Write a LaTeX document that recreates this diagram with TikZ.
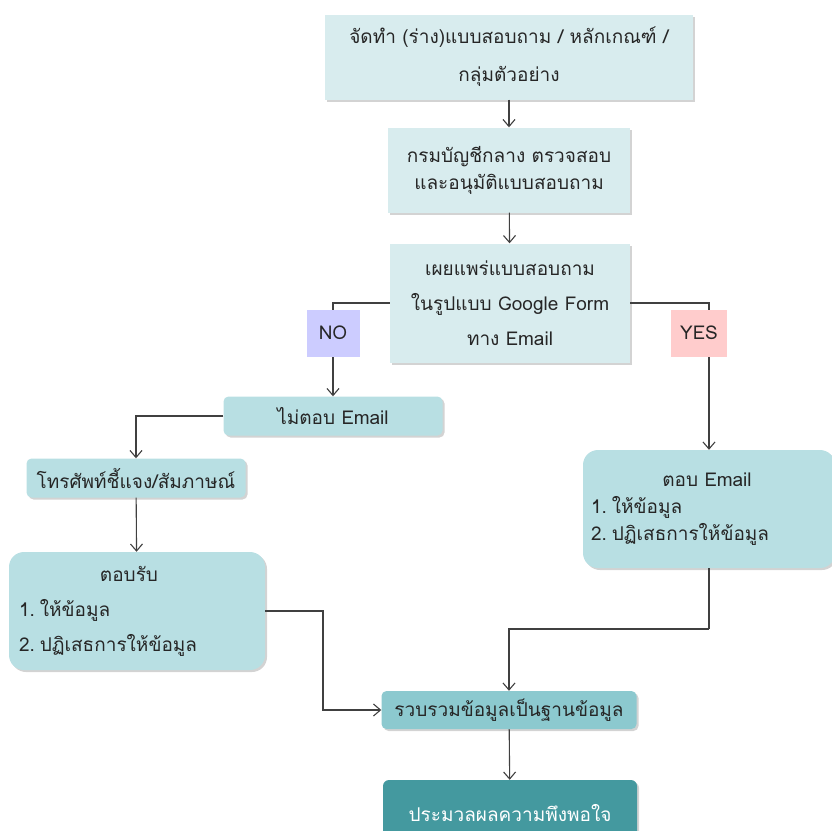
\documentclass[tikz,border=0pt]{standalone}
\usepackage{fontspec}
\newfontfamily\thaifont[Script=Thai]{Loma}
\usetikzlibrary{arrows.meta,shadows}
\definecolor{palecyan}{HTML}{D8ECEE}
\definecolor{midcyan}{HTML}{B8DFE3}
\definecolor{deepcyan}{HTML}{8CC9CF}
\definecolor{darkcyan}{HTML}{44999F}
\definecolor{nocol}{HTML}{CCCCFF}
\definecolor{yescol}{HTML}{FFCCCC}
\definecolor{inkgray}{HTML}{262626}
\definecolor{linegray}{HTML}{404040}

\begin{document}
\begin{tikzpicture}[x=1pt, y=-1pt, font=\thaifont\fontsize{19}{27}\selectfont, text=inkgray]

            % Styly uzlu a sipek
            \tikzstyle{palebox} = [rectangle, align=center, fill=palecyan, drop shadow={shadow xshift=2pt, shadow yshift=-2pt, opacity=0.35}]
            \tikzstyle{stepbox} = [rectangle, rounded corners=5pt, align=center, fill=midcyan, minimum width=219, minimum height=39, drop shadow={shadow xshift=2pt, shadow yshift=-2pt, opacity=0.35}]
            \tikzstyle{listbox} = [rectangle, rounded corners=15pt, align=left, fill=midcyan, minimum height=118, drop shadow={shadow xshift=2pt, shadow yshift=-2pt, opacity=0.35}]
            \tikzstyle{tag} = [rectangle, minimum height=47]
            \tikzstyle{arrow} = [draw=linegray, line width=1.1pt, -{Straight Barb[length=7pt, width=12pt]}]
            \tikzstyle{line} = [draw=linegray, line width=1.1pt]

            \useasboundingbox (0,0) rectangle (832,830);

            % Uzly diagramu
            \node (draft) [palebox, minimum width=368, minimum height=85, font=\thaifont\fontsize{19}{38}\selectfont] at (509,57) {จัดทำ (ร่าง)แบบสอบถาม / หลักเกณฑ์ /\\กลุ่มตัวอย่าง};
            \node (approve) [palebox, minimum width=242, minimum height=85] at (509,170) {กรมบัญชีกลาง ตรวจสอบ\\และอนุมัติแบบสอบถาม};
            \node (publish) [palebox, minimum width=240, minimum height=119, font=\thaifont\fontsize{19}{35}\selectfont] at (510,303) {เผยแพร่แบบสอบถาม\\ในรูปแบบ Google Form\\ทาง Email};
            \node (noreply) [stepbox] at (333,416) {ไม่ตอบ Email};
            \node (phone) [stepbox] at (136,478) {โทรศัพท์ชี้แจง/สัมภาษณ์};
            \node (accept) [listbox, minimum width=256, text width=236, font=\thaifont\fontsize{19}{35}\selectfont] at (137,611) {\makebox[220pt][c]{ตอบรับ}\\1.\hspace{5pt}ให้ข้อมูล\\2.\hspace{5pt}ปฏิเสธการให้ข้อมูล};
            \node (emailreply) [listbox, minimum width=252, text width=236, font=\thaifont\fontsize{19}{27}\selectfont] at (709,509) {\makebox[232pt][c]{ตอบ Email}\\1.\hspace{5pt}ให้ข้อมูล\\2.\hspace{5pt}ปฏิเสธการให้ข้อมูล};
            \node (collect) [stepbox, fill=deepcyan, minimum width=255, minimum height=38] at (509,710) {รวบรวมข้อมูลเป็นฐานข้อมูล};
            \node (evaluate) [rectangle, rounded corners=6pt, fill=darkcyan, text=white, minimum width=254, minimum height=66, drop shadow={shadow xshift=2pt, shadow yshift=-2pt, opacity=0.35}] at (510,813) {ประมวลผลความพึงพอใจ};

            % Zlomy car
            \coordinate (bendL) at (323,611);
            \coordinate (bendR) at (709,629);

            % Sipky propojujici uzly
            \draw [arrow] (draft) -- (approve);
            \draw [arrow] (approve) -- (publish);
            \draw [arrow] (publish.west) -| (noreply.north);
            \draw [arrow] (publish.east) -| (emailreply.north);
            \draw [arrow] (noreply.west) -| (phone.north);
            \draw [arrow] (phone) -- (accept);
            \draw [arrow] (accept.east) -- (bendL) |- (collect.west);
            \draw [line] (emailreply.south) -- (bendR);
            \draw [arrow] (bendR) -| (collect.north);
            \draw [arrow] (collect) -- (evaluate);

            % Popisky vetvi
            \node (no) [tag, fill=nocol, minimum width=53] at (333,333) {NO};
            \node (yes) [tag, fill=yescol, minimum width=56] at (699,333) {YES};

\end{tikzpicture}
\end{document}
